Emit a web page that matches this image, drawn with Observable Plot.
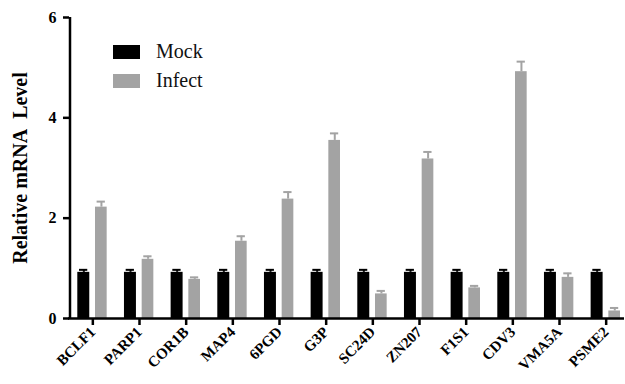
<!DOCTYPE html>
<html>
<head>
<meta charset="utf-8">
<script src="https://cdn.jsdelivr.net/npm/d3@7"></script>
<script src="https://cdn.jsdelivr.net/npm/@observablehq/plot@0.6"></script>
<style>
  body { margin: 0; background: #fff; }
  #wrap { position: relative; width: 625px; height: 384px; }
  #legend { position: absolute; left: 113px; top: 37px; font-family: "Liberation Serif", "Times New Roman", serif; font-size: 20px; color: #111; }
  .item { display: flex; align-items: center; height: 29px; }
  .sw { width: 27px; height: 14px; margin-right: 16px; }
</style>
</head>
<body>
<div id="wrap"><div id="legend"></div></div>
<script>
const genes = ["BCLF1","PARP1","COR1B","MAP4","6PGD","G3P","SC24D","ZN207","F1S1","CDV3","VMA5A","PSME2"];
const series = ["Mock","Infect"];
const colors = ["#000000","#a3a3a3"];
const mockValues = [0.92,0.92,0.92,0.92,0.92,0.92,0.92,0.92,0.92,0.92,0.92,0.92];
const mockErrors = [0.05,0.05,0.05,0.05,0.05,0.05,0.05,0.05,0.05,0.05,0.05,0.05];
const infectValues = [2.22,1.18,0.78,1.54,2.38,3.55,0.49,3.18,0.61,4.92,0.82,0.15];
const infectErrors = [0.11,0.06,0.04,0.10,0.14,0.14,0.06,0.14,0.04,0.20,0.08,0.06];
const yTicks = [0,2,4,6];

const mock = genes.map((g,i) => ({gene:g, value:mockValues[i], err:mockErrors[i]}));
const infect = genes.map((g,i) => ({gene:g, value:infectValues[i], err:infectErrors[i]}));
const band = (629 - 69) / genes.length;

const chart = Plot.plot({
  width: 625,
  height: 384,
  marginLeft: 69,
  marginRight: 0,
  marginTop: 17,
  marginBottom: 66,
  style: {fontFamily: "'Liberation Serif', 'Times New Roman', serif", fontWeight: "bold", fontSize: "15px"},
  x: {domain: genes, range: [69, 629], padding: 0, round: false, label: null},
  y: {domain: [0, 6], label: null},
  marks: [
    Plot.ruleX([genes[0]], {x: d => d, dx: -band / 2 + 0.5, y1: 0, y2: 6, strokeWidth: 2.5, stroke: "black"}),
    Plot.barY(mock, {x: "gene", y: "value", fill: colors[0], insetLeft: 8.3, insetRight: 26.4}),
    Plot.barY(infect, {x: "gene", y: "value", fill: colors[1], insetLeft: 26, insetRight: 9}),
    Plot.ruleX(mock, {x: "gene", y1: "value", y2: d => d.value + d.err, stroke: colors[0], strokeWidth: 2, dx: -9}),
    Plot.ruleX(infect, {x: "gene", y1: "value", y2: d => d.value + d.err, stroke: colors[1], strokeWidth: 2, dx: 8.6}),
    Plot.tickY(mock, {x: "gene", y: d => d.value + d.err, stroke: colors[0], strokeWidth: 2, insetLeft: 10, insetRight: 28.4}),
    Plot.tickY(infect, {x: "gene", y: d => d.value + d.err, stroke: colors[1], strokeWidth: 2, insetLeft: 27.6, insetRight: 10.8}),
    Plot.axisY({ticks: yTicks, tickFormat: d3.format("d"), tickSize: 6, strokeWidth: 2.5, stroke: "black", tickPadding: 7, fontSize: 16,
      label: "Relative mRNA\u00a0 Level", labelAnchor: "center", labelArrow: "none", labelOffset: 57}),
    Plot.axisX({tickSize: 7, strokeWidth: 2.5, stroke: "black", tickRotate: -45, tickPadding: 4, fontSize: 15, label: null}),
    Plot.ruleY([0], {strokeWidth: 2.5, stroke: "black", dx: -1})
  ]
});
chart.querySelectorAll('g[aria-label="y-axis label"] text').forEach(t => t.setAttribute("font-size", 20));
document.getElementById("wrap").prepend(chart);

const legend = document.getElementById("legend");
series.forEach((s, i) => {
  const it = document.createElement("div");
  it.className = "item";
  it.innerHTML = `<span class="sw" style="background:${colors[i]}"></span><span>${s}</span>`;
  legend.appendChild(it);
});
</script>
</body>
</html>
